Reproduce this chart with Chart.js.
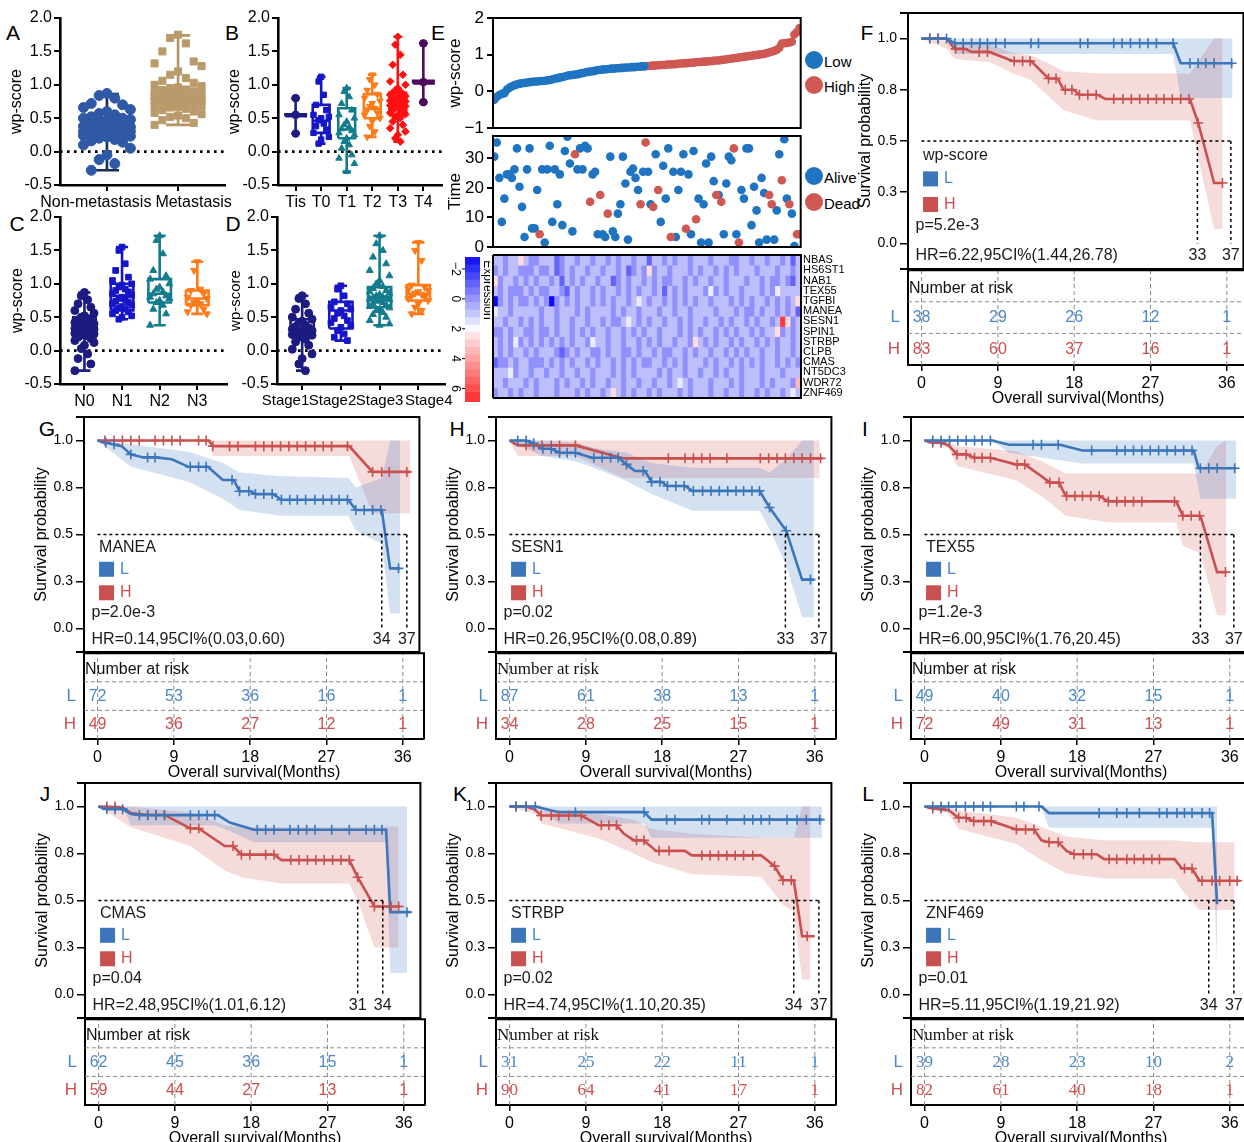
<!DOCTYPE html>
<html>
<head>
<meta charset="utf-8">
<title>wp-score figure</title>
<script src="https://cdn.jsdelivr.net/npm/chart.js@4.4.1/dist/chart.umd.min.js"></script>
<style>
  html, body { margin: 0; padding: 0; background: #fff; }
  body { width: 1244px; height: 1142px; position: relative; overflow: hidden; font-family: "Liberation Sans", Arial, sans-serif; }
  canvas { position: absolute; }
  .tag { position: absolute; font-size: 21px; line-height: 1; transform: translate(-50%, -50%); }
  .leg { position: absolute; font-size: 15px; line-height: 1; transform: translateY(-50%); }
  .dot { position: absolute; width: 18px; height: 18px; border-radius: 50%; transform: translate(-50%, -50%); }
</style>
</head>
<body>
<div class="tag" style="left:13px;top:32px">A</div>
<div class="tag" style="left:232px;top:32px">B</div>
<div class="tag" style="left:17px;top:223px">C</div>
<div class="tag" style="left:233px;top:223px">D</div>
<div class="tag" style="left:438px;top:32px">E</div>
<div class="tag" style="left:867px;top:32px">F</div>
<div class="tag" style="left:47px;top:428px">G</div>
<div class="tag" style="left:457px;top:428px">H</div>
<div class="tag" style="left:865px;top:428px">I</div>
<div class="tag" style="left:45px;top:793px">J</div>
<div class="tag" style="left:460px;top:793px">K</div>
<div class="tag" style="left:868px;top:793px">L</div>

<div class="dot" style="left:814px;top:60px;background:#1f74c1"></div><div class="leg" style="left:824px;top:61px">Low</div>
<div class="dot" style="left:814px;top:85px;background:#cf5853"></div><div class="leg" style="left:824px;top:86px">High</div>
<div class="dot" style="left:814px;top:176px;background:#1f74c1"></div><div class="leg" style="left:824px;top:177px">Alive</div>
<div class="dot" style="left:814px;top:202px;background:#cf5853"></div><div class="leg" style="left:824px;top:203px">Dead</div>

<script>
// ---------- data: A-D (wp-score per clinical group) ----------
const metCats = ['Non-metastasis', 'Metastasis'];
const metNon = [0.87,0.84,0.8,0.72,0.7,0.66,0.63,0.6,0.57,0.55,0.52,0.5,0.5,0.48,0.46,0.45,0.43,0.41,0.4,0.38,0.37,0.35,0.34,0.33,0.32,0.31,0.3,0.3,0.29,0.28,0.27,0.26,0.25,0.24,0.23,0.22,0.2,0.18,0.16,0.14,0.1,0.05,-0.05,-0.12,-0.18,-0.28];
const metYes = [1.75,1.7,1.62,1.5,1.35,1.32,1.28,1.2,1.15,1.1,1.06,1.03,1.0,0.98,0.96,0.95,0.93,0.92,0.9,0.89,0.88,0.87,0.86,0.85,0.84,0.83,0.82,0.81,0.8,0.8,0.79,0.78,0.77,0.76,0.75,0.74,0.73,0.72,0.71,0.7,0.69,0.68,0.67,0.66,0.64,0.62,0.6,0.58,0.56,0.54,0.52,0.5,0.47,0.43,0.4];
const metStats = [[-0.28,0.2,0.3,0.5,0.86],[0.4,0.66,0.78,0.94,1.74]];

const tCats = ['Tis','T0','T1','T2','T3','T4'];
const tTis = [0.8,0.55,0.27];
const tT0 = [1.12,1.05,0.85,0.7,0.62,0.55,0.52,0.5,0.47,0.42,0.38,0.33,0.28,0.22,0.18,0.12];
const tT1 = [0.95,0.9,0.82,0.72,0.62,0.55,0.5,0.45,0.4,0.37,0.34,0.31,0.28,0.25,0.2,0.15,0.1,0.05,-0.05,-0.1,-0.18,-0.3];
const tT2 = [1.15,1.08,1.0,0.92,0.86,0.8,0.76,0.72,0.68,0.65,0.62,0.58,0.55,0.5,0.45,0.38,0.3,0.22];
const tT3 = [1.72,1.6,1.45,1.3,1.15,1.05,1.0,0.95,0.92,0.9,0.88,0.86,0.85,0.83,0.82,0.8,0.79,0.78,0.77,0.76,0.75,0.74,0.73,0.72,0.71,0.7,0.69,0.68,0.66,0.65,0.63,0.62,0.6,0.58,0.56,0.55,0.52,0.5,0.45,0.4,0.35,0.3,0.25,0.2,0.15];
const tT4 = [1.62,1.04,0.74];
const tStats = [[0.27,0.53,0.55,0.56,0.8],[0.12,0.28,0.46,0.7,1.12],[-0.3,0.2,0.33,0.65,0.95],[0.22,0.5,0.64,0.86,1.15],[0.15,0.55,0.73,0.88,1.72],[0.74,1.02,1.04,1.06,1.62]];

const nCats = ['N0','N1','N2','N3'];
const nN0 = [0.87,0.82,0.76,0.7,0.65,0.6,0.56,0.52,0.5,0.48,0.46,0.44,0.42,0.4,0.39,0.38,0.36,0.35,0.34,0.33,0.32,0.31,0.3,0.29,0.28,0.27,0.26,0.25,0.24,0.23,0.22,0.2,0.18,0.15,0.12,0.08,0.03,-0.05,-0.12,-0.2,-0.3];
const nN1 = [1.55,1.5,1.3,1.2,1.1,1.05,1.0,0.98,0.95,0.92,0.9,0.88,0.85,0.83,0.8,0.78,0.76,0.74,0.72,0.7,0.68,0.66,0.64,0.62,0.6,0.58,0.55,0.52,0.5,0.47];
const nN2 = [1.72,1.65,1.45,1.2,1.12,1.07,1.0,0.95,0.92,0.88,0.85,0.82,0.8,0.78,0.75,0.72,0.68,0.62,0.55,0.38];
const nN3 = [1.33,1.2,0.92,0.9,0.85,0.8,0.78,0.75,0.72,0.7,0.68,0.62,0.58,0.55];
const nStats = [[-0.3,0.2,0.38,0.5,0.87],[0.47,0.6,0.82,1.0,1.55],[0.38,0.72,0.85,1.07,1.72],[0.55,0.68,0.78,0.9,1.33]];

const stCats = ['Stage1','Stage2','Stage3','Stage4'];
const st1 = [0.82,0.78,0.7,0.62,0.56,0.5,0.47,0.44,0.41,0.38,0.36,0.34,0.32,0.3,0.29,0.28,0.27,0.26,0.25,0.24,0.23,0.22,0.2,0.17,0.13,0.08,0.02,-0.05,-0.12,-0.2,-0.3];
const st2 = [0.97,0.92,0.82,0.73,0.7,0.65,0.62,0.6,0.56,0.52,0.48,0.45,0.42,0.38,0.35,0.3,0.25,0.2,0.15];
const st3 = [1.72,1.6,1.5,1.4,1.3,1.2,1.12,1.05,1.0,0.96,0.93,0.9,0.88,0.86,0.84,0.82,0.8,0.79,0.78,0.77,0.76,0.75,0.74,0.72,0.7,0.68,0.66,0.64,0.62,0.6,0.57,0.54,0.5,0.45,0.4,0.38];
const st4 = [1.62,1.5,1.35,0.98,0.95,0.92,0.9,0.88,0.86,0.84,0.82,0.8,0.78,0.75,0.7,0.65,0.6,0.55];
const stStats = [[-0.3,0.22,0.3,0.47,0.82],[0.15,0.33,0.6,0.73,0.97],[0.38,0.65,0.8,0.95,1.72],[0.55,0.75,0.85,0.98,1.62]];

// ---------- data: E (risk score, survival status, heatmap) ----------
const scoreLow = [-0.23,-0.15,-0.1,-0.07,-0.05,0.05,0.1,0.14,0.17,0.19,0.21,0.22,0.23,0.24,0.25,0.26,0.27,0.27,0.28,0.28,0.29,0.3,0.31,0.33,0.35,0.36,0.38,0.39,0.41,0.43,0.44,0.45,0.46,0.47,0.49,0.5,0.52,0.53,0.54,0.55,0.57,0.58,0.59,0.6,0.6,0.61,0.62,0.62,0.63,0.63,0.64,0.64,0.65,0.65,0.66,0.66,0.67,0.67,0.68,0.68];
const scoreHigh = [0.69,0.69,0.7,0.7,0.71,0.71,0.72,0.72,0.73,0.73,0.74,0.74,0.75,0.76,0.76,0.77,0.77,0.78,0.78,0.79,0.8,0.8,0.81,0.81,0.82,0.82,0.83,0.84,0.84,0.85,0.86,0.87,0.88,0.89,0.9,0.91,0.92,0.93,0.94,0.95,0.96,0.97,0.98,0.99,1.0,1.01,1.02,1.04,1.06,1.08,1.1,1.13,1.18,1.3,1.31,1.32,1.33,1.35,1.55,1.62,1.72];
const survTime = [30.6,35.4,23.4,8.5,16.4,24.6,24.6,23.4,26.3,33.4,20.4,13.6,3.4,26.3,33.4,6.3,6.3,19.3,4.3,26.3,1.5,26.3,34.3,8.5,26.3,14.5,24.6,7.4,32.5,37.4,28.3,5.3,31.4,26.3,33.4,26.3,34.3,33.4,15.3,24.6,25.5,4.3,17.6,4.3,3.4,11.3,30.6,5.3,3.4,11.3,14.5,30.6,21.5,2.5,25.5,26.6,23.4,19.3,14.5,25.5,35.4,25.5,14.5,13.6,31.4,19.3,8.5,27.5,16.4,33.4,3.4,25.5,3.4,19.3,25.5,31.4,6.2,24.6,4.3,32.5,9.4,16.4,1.5,14.5,28.3,1.5,30.6,22.3,17.6,17.6,15.3,4.3,21.5,30.6,29.4,33.4,4.3,1.5,19.3,16.4,33.4,33.4,7.4,20.4,12.4,1.5,23.4,18.3,2.5,17.6,14.5,2.5,12.4,31.4,22.6,36.5,16.4,14.5,11.3,0.3,4.3,4.3];
const survDead = [0,0,0,0,0,0,0,0,0,0,0,0,0,0,0,0,0,0,1,0,0,0,0,0,0,0,0,0,0,0,0,0,1,0,0,0,0,0,1,0,0,0,1,0,0,1,0,0,0,0,0,0,0,0,0,0,0,0,1,0,1,0,0,1,0,1,0,0,0,0,1,0,0,0,0,0,1,0,0,0,1,0,0,0,0,0,0,0,1,0,1,0,0,0,0,1,0,1,0,0,0,0,0,0,0,0,0,0,0,1,1,0,0,0,1,0,0,1,0,0,1,1];

const heatGenes = ['NBAS','HS6ST1','NAB1','TEX55','TGFBI','MANEA','SESN1','SPIN1','STRBP','CLPB','CMAS','NT5DC3','WDR72','ZNF469'];
// one digit per sample block; digit = index into heatLevels (expression value)
const heatLevels = [-2.8,-1.9,-1.0,-0.1,0.8,1.7,2.6,3.5,4.4,6.5];
const heatRows = [
  '4434464334 4423443443 4434344344 2443434434 4434443344 3443443424',
  '3434433343 3423434434 4344342343 6344344434 3443434344 4344434434',
  '6344343434 4342434344 3442343443 4343344343 4434434443 4434334324',
  '4343334343 3443243443 4344343434 4342434344 4353434434 4434354444',
  '0343433434 3034343443 4343443454 3443434343 4434443434 3443434346',
  '5443444443 4434443434 4443434434 4434434434 4443444343 3434434342',
  '4434434343 4434434434 4343345434 3443443434 4344343443 4344349634',
  '3343443343 3434434343 4434434343 4434443434 3443434344 3434463434',
  '4343534343 4343434435 4434434434 3434434436 4343443434 4343434434',
  '4343443434 4432343443 3434433434 4343344343 4434434343 4434434434',
  '2334344333 4343434434 3443434343 3443434344 4343443434 3434434343',
  '4445344344 3443443443 4443434344 4434344344 3443434434 4434443444',
  '4434443434 4434344343 4434434434 4344345434 4434443434 4434344437',
  '3443434434 4434443434 4346434344 3434443434 4434434434 4343443454'
];
const cbarEdges = [-2.8,-2.3,-1.8,-1.3,-0.8,-0.3,0.2,0.7,1.2,1.7,2.2,2.7,3.2,3.7,4.2,4.7,5.2,5.7,6.2,6.9];
const cbarTicks = [-2,0,2,4,6];

// ---------- data: F-L (Kaplan-Meier) ----------
const RISK_T = [0,9,18,27,36];

const F_L = [[0,1],[3,1],[4,0.977],[30.1,0.977],[31,0.88],[37.2,0.88]];
const F_Lc = [[1,1],[2,1],[3,1],[4,0.977],[5,0.977],[6,0.977],[7,0.977],[7.9,0.977],[8.9,0.977],[10,0.977],[13.1,0.977],[14,0.977],[19,0.977],[19.9,0.977],[23,0.977],[24,0.977],[25,0.977],[26.1,0.977],[27.1,0.977],[28.1,0.977],[30.1,0.977],[32.1,0.88],[33.1,0.88],[34,0.88],[35,0.88],[37.1,0.88]];
const F_Lb = [[0,1,1],[3,1,1],[4,0.925,1],[30.1,0.925,1],[31,0.71,1],[37.2,0.71,1]];
const F_H = [[0,1],[3,1],[4,0.95],[5.2,0.95],[6,0.935],[8.1,0.935],[11,0.89],[13.1,0.89],[15.2,0.805],[16.3,0.805],[17,0.75],[18.2,0.75],[18.9,0.726],[21,0.726],[22,0.705],[32.1,0.705],[33.1,0.588],[35,0.295],[36,0.295]];
const F_Hc = [[1,1],[2,1],[4.1,0.95],[5,0.95],[6.9,0.935],[7.9,0.935],[11.1,0.89],[12.1,0.89],[13,0.89],[15.2,0.805],[16.1,0.805],[17.2,0.75],[18,0.75],[18.9,0.726],[19.9,0.726],[20.9,0.726],[23,0.705],[24.1,0.705],[25.1,0.705],[26.1,0.705],[27.1,0.705],[28.1,0.705],[29,0.705],[30,0.705],[31,0.705],[32,0.705],[33.1,0.588],[36,0.295]];
const F_Hb = [[0,1,1],[3,0.95,0.99],[4,0.9,0.975],[8.2,0.885,0.97],[11,0.83,0.93],[13,0.8,0.92],[15.2,0.72,0.88],[17,0.65,0.84],[21,0.6,0.83],[32.1,0.6,0.83],[35,0.07,1],[36,0.07,1]];
const F_riskL = [38,29,26,12,1];
const F_riskH = [83,60,37,16,1];

const G_L = [[0,1],[1,0.988],[2.9,0.97],[4,0.926],[5.5,0.91],[7,0.91],[8.9,0.9],[10.9,0.86],[13.2,0.86],[15,0.79],[16.3,0.79],[17,0.73],[18.3,0.73],[18.9,0.715],[21,0.715],[22,0.685],[30,0.685],[30.9,0.63],[34,0.63],[35,0.32],[36.2,0.32]];
const G_Lc = [[1,0.988],[2,0.98],[4,0.926],[6,0.91],[6.9,0.91],[11.1,0.86],[12.1,0.86],[13,0.86],[16.1,0.79],[17,0.73],[18.1,0.73],[18.9,0.715],[19.9,0.715],[20.9,0.715],[22,0.685],[23,0.685],[23.9,0.685],[24.9,0.685],[26,0.685],[27,0.685],[28,0.685],[28.9,0.685],[29.9,0.685],[30.9,0.63],[31.9,0.63],[32.9,0.63],[33.9,0.63],[36,0.32]];
const G_Lb = [[0,1,1],[4,0.86,0.98],[10.9,0.78,0.94],[15,0.69,0.88],[17,0.63,0.83],[22,0.6,0.81],[30,0.6,0.8],[30.9,0.52,0.75],[34,0.45,0.8],[35,0.08,1],[36.2,0.08,1]];
const G_H = [[0,1],[13.3,1],[13.8,0.97],[30.1,0.97],[32.9,0.833],[37.4,0.833]];
const G_Hc = [[0.9,1],[2,1],[3,1],[4,1],[5,1],[6.9,1],[7.9,1],[8.9,1],[9.9,1],[12.1,1],[13,1],[13.8,0.97],[15.8,0.97],[16.8,0.97],[18.9,0.97],[19.9,0.97],[20.9,0.97],[21.9,0.97],[22.9,0.97],[23.9,0.97],[24.9,0.97],[26,0.97],[27,0.97],[28,0.97],[29.9,0.97],[32.9,0.833],[34,0.833],[34.9,0.833],[37,0.833]];
const G_Hb = [[0,1,1],[13.3,1,1],[13.8,0.917,1],[30.1,0.917,1],[32.9,0.613,1],[37.4,0.613,1]];
const G_riskL = [72,53,36,16,1];
const G_riskH = [49,36,27,12,1];

const H_L = [[0,1],[2,1],[2.9,0.985],[3.9,0.956],[5,0.956],[6,0.935],[7.9,0.935],[9.9,0.908],[13,0.908],[14,0.873],[15,0.838],[16.2,0.838],[17,0.78],[18.2,0.78],[18.9,0.758],[21,0.758],[21.9,0.732],[29.9,0.732],[31.1,0.644],[33.1,0.52],[35,0.26],[36.4,0.26]];
const H_Lc = [[1,1],[2,1],[2.9,0.985],[4,0.956],[5,0.956],[6,0.935],[6.9,0.935],[7.9,0.935],[10.1,0.908],[11.1,0.908],[12.1,0.908],[13,0.908],[14,0.873],[16,0.838],[17,0.78],[18,0.78],[18.9,0.758],[19.9,0.758],[20.9,0.758],[22,0.732],[23.1,0.732],[24.1,0.732],[25.1,0.732],[26.1,0.732],[27.1,0.732],[28,0.732],[29,0.732],[29.9,0.732],[31.1,0.644],[33.1,0.52],[36,0.26]];
const H_Lb = [[0,1,1],[3.9,0.917,1],[7.9,0.89,0.99],[10.1,0.855,0.96],[14,0.785,0.935],[17,0.715,0.88],[21.9,0.626,0.855],[29.9,0.626,0.855],[31.1,0.53,0.83],[33.1,0.335,0.9],[35,0.06,1],[36.4,0.06,1]];
const H_H = [[0,1],[1,0.974],[7.9,0.974],[13.6,0.905],[37.4,0.905]];
const H_Hc = [[2,0.974],[2.9,0.974],[3.9,0.974],[5,0.974],[6,0.974],[7.9,0.974],[19,0.905],[21,0.905],[22,0.905],[23,0.905],[24,0.905],[26,0.905],[30,0.905],[31,0.905],[32,0.905],[33,0.905],[34,0.905],[35,0.905],[36,0.905],[37.2,0.905]];
const H_Hb = [[0,1,1],[1,0.917,1],[7.9,0.917,1],[13.6,0.8,1],[37.1,0.8,1]];
const H_riskL = [87,61,38,13,1];
const H_riskH = [34,28,25,15,1];

const I_L = [[0,1],[8.1,1],[10.1,0.977],[16.2,0.977],[18.9,0.947],[32.2,0.947],[32.8,0.852],[37.3,0.852]];
const I_Lc = [[1,1],[2,1],[3,1],[4,1],[5,1],[6,1],[6.9,1],[7.9,1],[13,0.977],[14,0.977],[16,0.977],[20,0.947],[23,0.947],[24,0.947],[25,0.947],[26,0.947],[27,0.947],[28,0.947],[29,0.947],[30,0.947],[31,0.947],[32,0.947],[33,0.852],[34,0.852],[35,0.852],[37.1,0.852]];
const I_Lb = [[0,1,1],[8.1,1,1],[10.1,0.935,1],[18.9,0.877,1],[32.2,0.877,1],[33,0.69,1],[37.3,0.69,1]];
const I_H = [[0,1],[1,0.988],[2,0.988],[2.9,0.974],[3.9,0.926],[5,0.926],[6,0.908],[7.9,0.908],[10.9,0.873],[12,0.873],[14,0.81],[15,0.776],[16.1,0.776],[16.9,0.705],[20.9,0.705],[22,0.676],[30.1,0.676],[30.9,0.6],[33,0.6],[35,0.3],[36.1,0.3]];
const I_Hc = [[1,0.988],[2,0.988],[3.9,0.926],[5,0.926],[6,0.908],[6.9,0.908],[7.9,0.908],[11.1,0.873],[12,0.873],[15,0.776],[16.1,0.776],[17,0.705],[18,0.705],[18.9,0.705],[19.9,0.705],[20.9,0.705],[22,0.676],[23,0.676],[24,0.676],[25,0.676],[26,0.676],[29.9,0.676],[30.9,0.6],[31.9,0.6],[32.9,0.6],[36,0.3]];
const I_Hb = [[0,1,1],[2.9,0.96,1],[3.9,0.864,0.97],[10.9,0.79,0.944],[14,0.705,0.89],[16.9,0.6,0.825],[22,0.564,0.825],[30.1,0.564,0.825],[30.9,0.44,0.825],[33,0.4,0.825],[35,0.07,0.97],[36.1,0.07,1]];
const I_riskL = [49,40,32,15,1];
const I_riskH = [72,49,31,13,1];

const J_L = [[0,1],[1,0.986],[2.9,0.986],[3.9,0.96],[5,0.954],[14.3,0.954],[15.7,0.915],[18.6,0.876],[34.4,0.876],[34.9,0.438],[37.3,0.438]];
const J_Lc = [[1,0.986],[2,0.986],[2.9,0.986],[4.9,0.954],[5.9,0.954],[6.9,0.954],[7.9,0.954],[11,0.954],[12,0.954],[13,0.954],[13.9,0.954],[19,0.876],[20,0.876],[21,0.876],[22.9,0.876],[23.9,0.876],[24.9,0.876],[25.9,0.876],[27.9,0.876],[30,0.876],[32,0.876],[33,0.876],[33.9,0.876],[36.9,0.438]];
const J_Lb = [[0,1,1],[2.9,1,1],[3.9,0.9,1],[13.9,0.9,1],[15.7,0.87,1],[18.6,0.81,1],[34.4,0.81,1],[34.9,0.115,1],[36.9,0.115,1]];
const J_H = [[0,1],[2.9,0.995],[3.9,0.965],[5.9,0.955],[7.9,0.955],[11,0.883],[12,0.883],[15.1,0.79],[16.1,0.79],[17.1,0.744],[21,0.744],[21.9,0.715],[30,0.715],[31,0.624],[33,0.468],[36.1,0.468]];
const J_Hc = [[1,1],[2,1],[5.9,0.955],[6.9,0.955],[7.9,0.955],[11,0.883],[12,0.883],[16.1,0.79],[17.1,0.744],[18.1,0.744],[20,0.744],[21,0.744],[23,0.715],[24,0.715],[25,0.715],[26,0.715],[27,0.715],[28,0.715],[29,0.715],[30,0.715],[31,0.624],[33,0.468],[34,0.468],[35,0.468],[35.9,0.468]];
const J_Hb = [[0,1,1],[3.9,0.89,1],[11,0.79,0.968],[15.1,0.66,0.9],[17.1,0.624,0.89],[21.9,0.59,0.89],[30,0.59,0.89],[31,0.5,0.89],[33,0.25,0.894],[35.9,0.25,0.894]];
const J_riskL = [62,45,36,15,1];
const J_riskH = [59,44,27,13,1];

const K_L = [[0,1],[3.1,1],[5.9,0.97],[16.1,0.97],[17,0.93],[37.4,0.93]];
const K_Lc = [[0.8,1],[2,1],[3.1,1],[7.9,0.97],[16.1,0.97],[18.8,0.93],[19.8,0.93],[23,0.93],[23.9,0.93],[26,0.93],[28.1,0.93],[29.1,0.93],[30.1,0.93],[31.1,0.93],[33.2,0.93],[34.4,0.93],[35.5,0.93],[37.1,0.93]];
const K_Lb = [[0,1,1],[3.1,1,1],[5.9,0.91,1],[16.1,0.91,1],[17,0.834,1],[37.4,0.834,1]];
const K_H = [[0,1],[2,1],[3.1,0.982],[3.8,0.952],[8.6,0.952],[10.7,0.9],[12.8,0.9],[13.7,0.855],[14.9,0.82],[16,0.82],[17,0.785],[17.5,0.764],[21,0.764],[21.8,0.74],[30.1,0.74],[31.7,0.683],[32.7,0.608],[34,0.608],[35,0.31],[36.5,0.31]];
const K_Hc = [[0.8,1],[2,1],[3.8,0.952],[5,0.952],[5.9,0.952],[7.1,0.952],[8.6,0.952],[11,0.9],[11.9,0.9],[12.8,0.9],[15.2,0.82],[16.1,0.82],[17.9,0.764],[19.1,0.764],[23,0.74],[24,0.74],[25,0.74],[26,0.74],[27,0.74],[28,0.74],[29.1,0.74],[31.7,0.683],[32.7,0.608],[33.7,0.608],[35.6,0.31]];
const K_Hb = [[0,1,1],[3.1,0.96,1],[3.8,0.91,0.98],[10.7,0.83,0.96],[14.9,0.75,0.93],[17,0.705,0.88],[21.8,0.64,0.855],[30.1,0.626,0.834],[32.7,0.476,0.834],[34,0.44,0.834],[35,0.08,1],[36,0.08,1]];
const K_riskL = [31,25,22,11,1];
const K_riskH = [90,64,41,17,1];

const L_L = [[0,1],[14,1],[14.9,0.965],[34.4,0.965],[35,0.48]];
const L_Lc = [[1,1],[2,1],[2.9,1],[3.8,1],[4.9,1],[5.9,1],[7,1],[7.9,1],[11,1],[11.9,1],[13.7,1],[20.9,0.965],[23,0.965],[24.2,0.965],[25.7,0.965],[28.1,0.965],[29,0.965],[30.2,0.965],[31.1,0.965],[32,0.965],[33.2,0.965],[34.1,0.965]];
const L_Lb = [[0,1,1],[14,1,1],[14.9,0.887,1],[34.4,0.887,1],[35,0.15,1]];
const L_H = [[0,1],[1,0.99],[2.9,0.98],[4.1,0.94],[5,0.94],[5.9,0.922],[8,0.922],[11,0.878],[13.1,0.878],[14,0.82],[14.9,0.81],[16,0.81],[17,0.764],[17.9,0.746],[20.6,0.746],[21.5,0.72],[29.9,0.72],[30.8,0.67],[32,0.67],[32.9,0.605],[37.7,0.605]];
const L_Hc = [[1,0.99],[2,0.99],[4.1,0.94],[5,0.94],[5.9,0.922],[7.1,0.922],[8,0.922],[11,0.878],[12.1,0.878],[13.1,0.878],[14.9,0.81],[16,0.81],[17.9,0.746],[19,0.746],[20,0.746],[22.1,0.72],[23,0.72],[24.2,0.72],[25.1,0.72],[26.2,0.72],[27.2,0.72],[28.1,0.72],[31.1,0.67],[32,0.67],[33.2,0.605],[34.4,0.605],[35.3,0.605],[36.5,0.605],[37.4,0.605]];
const L_Hb = [[0,1,1],[2.9,0.96,1],[4.1,0.88,0.98],[11,0.8,0.94],[14,0.714,0.89],[17,0.644,0.84],[21.5,0.617,0.82],[29.9,0.617,0.82],[30.8,0.555,0.815],[32.9,0.45,0.81],[37.1,0.45,0.81]];
const L_riskL = [39,28,23,10,2];
const L_riskH = [82,61,40,18,1];

// ---------- styles ----------
const SANS = '"Liberation Sans", Arial, sans-serif';
const SERIF = '"Liberation Serif", "Times New Roman", serif';
const KM_BLUE = '#3a76b9', KM_RED = '#c8514f';
const NUM_BLUE = '#4a88c9', NUM_RED = '#cf4e4e';
const BAND_BLUE = 'rgba(60,120,190,0.22)', BAND_RED = 'rgba(215,90,90,0.22)';
const E_BLUE = '#1f74c1', E_RED = '#cf5853';
const NAVY = '#1c1c80', ROYAL = '#1616c8', TEAL = '#137c8c', ORANGE = '#ff7a18', BRED = '#ff1010', PURPLE = '#4c0b5c';

Chart.defaults.font.family = SANS;
Chart.defaults.color = '#000';
Chart.defaults.animation = false;
Chart.defaults.plugins.legend.display = false;
Chart.defaults.plugins.tooltip.enabled = false;

function addCanvas(x, y, w, h) {
  const c = document.createElement('canvas');
  c.width = w; c.height = h;
  c.style.left = x + 'px'; c.style.top = y + 'px';
  c.style.width = w + 'px'; c.style.height = h + 'px';
  document.body.appendChild(c);
  return c;
}

// black rectangle round the plot area (only the sides asked for)
function framePlugin(sides, over) {
  return {
    id: 'frame',
    afterDraw(chart) {
      const { ctx, chartArea: a } = chart;
      const e = over || 0;
      ctx.save();
      ctx.strokeStyle = '#000';
      ctx.lineWidth = 2;
      ctx.beginPath();
      if (sides.includes('t')) { ctx.moveTo(a.left - e, a.top); ctx.lineTo(a.right + 1, a.top); }
      if (sides.includes('b')) { ctx.moveTo(a.left - e, a.bottom); ctx.lineTo(a.right + 1, a.bottom); }
      if (sides.includes('r')) { ctx.moveTo(a.right, a.top); ctx.lineTo(a.right, a.bottom); }
      if (sides.includes('l')) { ctx.moveTo(a.left, a.top); ctx.lineTo(a.left, a.bottom); }
      ctx.stroke();
      ctx.restore();
    }
  };
}

const tickOnly = (w, len) => ({ display: true, drawOnChartArea: false, drawTicks: true, tickLength: len || 6, color: '#000', lineWidth: w || 2 });

// ---------- box plots ----------
function boxChart(o) {
  const cv = addCanvas(o.x, o.y, o.w, o.h);
  const sets = [];
  const pattern = [0, -1, 1, -2, 2, -3, 3];
  o.groups.forEach((vals, i) => {
    const [mn, q1, md, q3, mx] = o.stats[i];
    const bw = o.boxW[i], cw = o.capW;
    const gap = { x: i, y: null };
    const spread = vals.length > 3 ? o.spread : 0;
    const col = o.colors[i];
    sets.push({
      type: 'scatter',
      data: vals.map((v, k) => ({ x: i + pattern[k % 7] * spread, y: v })),
      pointStyle: o.shapes[i],
      pointRotation: (o.rot || [])[i] || 0,
      pointRadius: o.r,
      pointBackgroundColor: col,
      pointBorderColor: col,
      pointBorderWidth: 1,
      order: 1
    });
    sets.push({
      type: 'line',
      data: [
        { x: i - bw, y: q1 }, { x: i + bw, y: q1 }, { x: i + bw, y: q3 }, { x: i - bw, y: q3 }, { x: i - bw, y: q1 }, gap,
        { x: i - bw, y: md }, { x: i + bw, y: md }, gap,
        { x: i, y: q3 }, { x: i, y: mx }, gap, { x: i - cw, y: mx }, { x: i + cw, y: mx }, gap,
        { x: i, y: q1 }, { x: i, y: mn }, gap, { x: i - cw, y: mn }, { x: i + cw, y: mn }
      ],
      borderColor: (o.lineColors || o.colors)[i],
      borderWidth: 2.6,
      pointRadius: 0,
      fill: false,
      order: 2
    });
  });
  sets.push({
    type: 'line',
    data: [{ x: o.xMin, y: 0 }, { x: o.xMax, y: 0 }],
    borderColor: '#000', borderWidth: 2.6, borderDash: [2.6, 4.4], pointRadius: 0, fill: false, order: 3
  });

  // spaces before/after a label nudge it sideways like in the original figure
  const pad = o.labelPad || o.cats.map(() => [0, 0]);
  const label = i => ' '.repeat(pad[i][0]) + o.cats[i] + ' '.repeat(pad[i][1]);

  new Chart(cv, {
    type: 'scatter',
    data: { datasets: sets },
    options: {
      responsive: false,
      devicePixelRatio: 1,
      layout: { padding: { left: 0, top: o.padT, right: o.padR, bottom: 0 } },
      scales: {
        x: {
          type: 'linear', min: o.xMin, max: o.xMax,
          afterBuildTicks: s => { s.ticks = o.cats.map((c, i) => ({ value: i })); },
          afterFit: s => { s.height = o.xH; },
          ticks: { callback: (v, i) => label(i), font: { size: o.xSize || 16 }, padding: 2, minRotation: 0, maxRotation: 0, autoSkip: false },
          grid: tickOnly(2),
          border: { color: '#000', width: 2.6 }
        },
        y: {
          min: -0.5, max: 2,
          afterBuildTicks: s => { s.ticks = [-0.5, 0, 0.5, 1, 1.5, 2].map(v => ({ value: v })); },
          afterFit: s => { s.width = o.yW; },
          ticks: { callback: v => v.toFixed(1), font: { size: 16 }, padding: 2 },
          grid: tickOnly(2),
          border: { color: '#000', width: 2.6 },
          title: { display: true, text: 'wp-score', font: { size: o.tSize || 16 }, padding: { top: o.titlePad, bottom: 0 } }
        }
      }
    }
  });
}

boxChart({ x: 0, y: 0, w: 240, h: 215, yW: 60, padT: 18, padR: 15, xH: 30, xMin: -0.66, xMax: 1.66, titlePad: 7,
  cats: metCats, groups: [metNon, metYes], stats: metStats, labelPad: [[0, 5], [7, 0]],
  colors: ['#2f58a6', '#b99b6b'], lineColors: ['#1b2c58', '#b39565'],
  shapes: ['circle', 'rect'], boxW: [0.27, 0.34], capW: 0.17, r: 5, spread: 0.11 });

boxChart({ x: 225, y: 0, w: 222, h: 215, yW: 53, padT: 18, padR: 2, xH: 30, xMin: -0.69, xMax: 5.73, titlePad: 0,
  cats: tCats, groups: [tTis, tT0, tT1, tT2, tT3, tT4], stats: tStats,
  colors: [NAVY, ROYAL, TEAL, ORANGE, BRED, PURPLE],
  shapes: ['circle', 'rect', 'triangle', 'triangle', 'rectRot', 'circle'], rot: [0, 0, 0, 180, 0, 0],
  boxW: [0.4, 0.33, 0.33, 0.33, 0.33, 0.4], capW: 0.17, r: 3.8, spread: 0.1 });

boxChart({ x: 0, y: 200, w: 232, h: 214, yW: 60, padT: 17, padR: 2, xH: 30, xMin: -0.65, xMax: 3.79, titlePad: 8,
  cats: nCats, groups: [nN0, nN1, nN2, nN3], stats: nStats,
  colors: [NAVY, ROYAL, TEAL, ORANGE],
  shapes: ['circle', 'rect', 'triangle', 'triangle'], rot: [0, 0, 0, 180],
  boxW: [0.3, 0.3, 0.3, 0.3], capW: 0.16, r: 4, spread: 0.085 });

boxChart({ x: 225, y: 200, w: 232, h: 214, yW: 52, padT: 17, padR: 12, xH: 30, xMin: -0.65, xMax: 3.69, titlePad: 2, tSize: 15,
  cats: stCats, groups: [st1, st2, st3, st4], stats: stStats, xSize: 15, labelPad: [[0, 8], [0, 4], [0, 0], [5, 0]],
  colors: [NAVY, ROYAL, TEAL, ORANGE],
  shapes: ['circle', 'rect', 'triangle', 'triangle'], rot: [0, 0, 0, 180],
  boxW: [0.3, 0.3, 0.3, 0.3], capW: 0.16, r: 4, spread: 0.085 });

// ---------- E: score curve ----------
(function () {
  const cv = addCanvas(445, 4, 360, 138);
  const n = scoreLow.length + scoreHigh.length;
  new Chart(cv, {
    type: 'scatter',
    data: { datasets: [
      { data: scoreLow.map((v, i) => ({ x: i, y: v })), pointRadius: 4.3, pointBackgroundColor: E_BLUE, pointBorderWidth: 0 },
      { data: scoreHigh.map((v, j) => ({ x: scoreLow.length + j, y: v })), pointRadius: 4.3, pointBackgroundColor: E_RED, pointBorderWidth: 0 }
    ] },
    options: {
      responsive: false, devicePixelRatio: 1,
      layout: { padding: { left: 0, top: 14, right: 4, bottom: 14 } },
      scales: {
        x: { type: 'linear', min: -0.5, max: n - 0.5, display: false },
        y: {
          min: -1, max: 2,
          afterBuildTicks: s => { s.ticks = [-1, 0, 1, 2].map(v => ({ value: v })); },
          afterFit: s => { s.width = 48; },
          ticks: { callback: v => v < 0 ? '\u2212' + (-v) : String(v), font: { size: 17 }, padding: 3 },
          grid: tickOnly(2),
          border: { color: '#000', width: 2 },
          title: { display: true, text: 'wp-score', font: { size: 17 }, padding: { top: 0, bottom: 0 } }
        }
      }
    },
    plugins: [framePlugin('tlrb')]
  });
})();

// ---------- E: survival time / status ----------
(function () {
  const cv = addCanvas(445, 122, 360, 139);
  const alive = [], dead = [];
  survTime.forEach((t, i) => (survDead[i] ? dead : alive).push({ x: i, y: t }));
  new Chart(cv, {
    type: 'scatter',
    data: { datasets: [
      { data: dead, pointRadius: 4.3, pointBackgroundColor: E_RED, pointBorderWidth: 0 },
      { data: alive, pointRadius: 4.3, pointBackgroundColor: E_BLUE, pointBorderWidth: 0 }
    ] },
    options: {
      responsive: false, devicePixelRatio: 1,
      layout: { padding: { left: 0, top: 14, right: 4, bottom: 14 } },
      scales: {
        x: { type: 'linear', min: -0.5, max: survTime.length - 0.5, display: false },
        y: {
          min: 0, max: 37.6,
          afterBuildTicks: s => { s.ticks = [0, 10, 20, 30].map(v => ({ value: v })); },
          afterFit: s => { s.width = 48; },
          ticks: { font: { size: 17 }, padding: 3 },
          grid: tickOnly(2),
          border: { color: '#000', width: 2 },
          title: { display: true, text: 'Time', font: { size: 17 }, padding: { top: 0, bottom: 0 } }
        }
      }
    },
    plugins: [framePlugin('tlrb')]
  });
})();

// ---------- E: heatmap ----------
function heatColor(v) {
  let c;
  if (v <= 2) {
    const t = Math.min((2 - v) / 4.8, 1);
    c = [250 - 240 * t, 250 - 240 * t, 255 - 5 * t];
  } else {
    const t = Math.min((v - 2) / 4.9, 1);
    c = [255, 245 - 205 * t, 245 - 205 * t];
  }
  return 'rgb(' + c.map(Math.round).join(',') + ')';
}

(function () {
  const rows = heatRows.map(r => r.replace(/ /g, '').split('').map(Number));
  const cv = addCanvas(490, 246, 360, 161);
  new Chart(cv, {
    type: 'bar',
    data: {
      labels: rows[0].map((d, i) => i),
      datasets: rows.map((row, r) => ({
        data: row.map(() => [r, r + 1]),
        backgroundColor: row.map(d => heatColor(heatLevels[d])),
        borderWidth: 0, grouped: false, barPercentage: 1, categoryPercentage: 1
      }))
    },
    options: {
      responsive: false, devicePixelRatio: 1,
      layout: { padding: { left: 3, top: 9, right: 0, bottom: 9 } },
      scales: {
        x: { display: false },
        y: {
          position: 'right', min: 0, max: heatGenes.length, reverse: true,
          afterBuildTicks: s => { s.ticks = heatGenes.map((g, i) => ({ value: i + 0.5 })); },
          afterFit: s => { s.width = 49; },
          ticks: { callback: (v, i) => heatGenes[i], font: { size: 11 }, padding: 2, autoSkip: false },
          grid: { display: false, drawTicks: false },
          border: { display: false }
        }
      }
    },
    plugins: [framePlugin('tlrb')]
  });
})();

// ---------- E: colour bar ----------
(function () {
  const cv = addCanvas(440, 250, 50, 160);
  const cbarText = {
    id: 'cbarText',
    afterDraw(chart) {
      const { ctx, chartArea: a } = chart;
      const Y = v => chart.scales.y.getPixelForValue(v);
      ctx.save();
      ctx.fillStyle = '#000';
      ctx.strokeStyle = '#000';
      ctx.lineWidth = 1;
      ctx.font = '12px ' + SANS;
      ctx.textAlign = 'center';
      ctx.textBaseline = 'middle';
      cbarTicks.forEach(v => {
        ctx.beginPath(); ctx.moveTo(a.left - 3, Y(v)); ctx.lineTo(a.left, Y(v)); ctx.stroke();
        ctx.save(); ctx.translate(a.left - 10, Y(v)); ctx.rotate(Math.PI / 2);
        ctx.fillText(v < 0 ? '\u2212' + (-v) : String(v), 0, 0); ctx.restore();
      });
      ctx.save(); ctx.translate(a.right + 7, a.top + 33); ctx.rotate(Math.PI / 2);
      ctx.fillText('Expression', 0, 0); ctx.restore();
      ctx.restore();
    }
  };
  new Chart(cv, {
    type: 'bar',
    data: {
      labels: [''],
      datasets: cbarEdges.slice(0, -1).map((e, i) => ({
        data: [[e, cbarEdges[i + 1]]],
        backgroundColor: heatColor((e + cbarEdges[i + 1]) / 2),
        borderWidth: 0, grouped: false, barPercentage: 1, categoryPercentage: 1
      }))
    },
    options: {
      responsive: false, devicePixelRatio: 1,
      layout: { padding: { left: 25, top: 7, right: 10, bottom: 8 } },
      scales: {
        x: { display: false },
        y: { display: false, min: cbarEdges[0], max: cbarEdges[cbarEdges.length - 1], reverse: true }
      }
    },
    plugins: [cbarText]
  });
})();

// ---------- Kaplan-Meier panels ----------
function kmPanel(p) {
  const W = 52 + 340 + 2;
  const x0 = p.ax - 52;
  const xy = a => a.map(r => ({ x: r[0], y: r[1] }));
  const band = (b, col) => [
    { type: 'line', data: b.map(r => ({ x: r[0], y: r[2] })), fill: '+1', backgroundColor: col, borderColor: 'rgba(0,0,0,0)', borderWidth: 0, pointRadius: 0, order: 9 },
    { type: 'line', data: b.map(r => ({ x: r[0], y: r[1] })), fill: false, borderColor: 'rgba(0,0,0,0)', borderWidth: 0, pointRadius: 0, order: 9 }
  ];
  const curve = (d, col) => ({ type: 'line', data: xy(d), borderColor: col, borderWidth: 2.6, pointRadius: 0, fill: false, order: 4 });
  const marks = (d, col) => ({ type: 'scatter', data: xy(d), pointStyle: 'cross', pointRadius: 5, pointBorderColor: col, pointBorderWidth: 1.6, order: 3 });
  const dash = d => ({ type: 'line', data: d, borderColor: '#000', borderWidth: 1.5, borderDash: [3, 3], pointRadius: 0, fill: false, order: 2 });
  const medMax = Math.max(...p.med);

  const sets = [
    ...band(p.Lb, BAND_BLUE), ...band(p.Hb, BAND_RED),
    curve(p.L, KM_BLUE), curve(p.H, KM_RED),
    marks(p.Lc, KM_BLUE), marks(p.Hc, KM_RED),
    dash([{ x: 0, y: 0.5 }, { x: medMax, y: 0.5 }]),
    ...p.med.map(m => dash([{ x: m, y: 0.5 }, { x: m, y: 0 }]))
  ];

  const kmText = {
    id: 'kmText',
    afterDraw(chart) {
      const { ctx } = chart;
      const X = v => chart.scales.x.getPixelForValue(v);
      const Y = v => chart.scales.y.getPixelForValue(v);
      ctx.save();
      ctx.textBaseline = 'middle';
      ctx.textAlign = 'left';
      ctx.font = '16px ' + SANS;
      ctx.fillStyle = '#1a1a1a';
      ctx.fillText(p.title, X(0.2), Y(0.43));
      ctx.fillStyle = KM_BLUE; ctx.fillRect(X(0.2), Y(0.315) - 7.5, 15, 15);
      ctx.fillStyle = KM_RED; ctx.fillRect(X(0.2), Y(0.19) - 7.5, 15, 15);
      ctx.fillStyle = NUM_BLUE; ctx.fillText('L', X(2.7), Y(0.315));
      ctx.fillStyle = NUM_RED; ctx.fillText('H', X(2.7), Y(0.19));
      ctx.fillStyle = '#1a1a1a';
      ctx.fillText(p.pv, X(-0.7), Y(0.086));
      ctx.fillText(p.hr, X(-0.7), Y(-0.06));
      ctx.textAlign = 'center';
      p.med.forEach(m => ctx.fillText(String(m), X(m), Y(-0.06)));
      ctx.restore();
    }
  };

  const cv = addCanvas(x0, p.top - 12, W, p.kmH + 24);
  new Chart(cv, {
    type: 'scatter',
    data: { datasets: sets },
    options: {
      responsive: false, devicePixelRatio: 1,
      layout: { padding: { left: 0, top: 12, right: 2, bottom: 12 } },
      scales: {
        x: { type: 'linear', min: -1.6, max: 38.5, display: false },
        y: {
          min: -0.125, max: 1.125,
          afterBuildTicks: s => { s.ticks = [0, 0.25, 0.5, 0.75, 1].map(v => ({ value: v })); },
          afterFit: s => { s.width = 52; },
          ticks: { callback: v => v.toFixed(1), font: { size: 14 }, padding: 3 },
          grid: tickOnly(1.5, 8),
          border: { color: '#000', width: 2 },
          title: { display: true, text: 'Survival probability', font: { size: 16 }, padding: { top: 0, bottom: 0 } }
        }
      }
    },
    plugins: [framePlugin('trb', 8), kmText]
  });

  // number-at-risk table
  const tTop = p.top + p.kmH;
  const riskText = {
    id: 'riskText',
    afterDraw(chart) {
      const { ctx } = chart;
      const X = v => chart.scales.x.getPixelForValue(v);
      const Y = v => chart.scales.y.getPixelForValue(v);
      ctx.save();
      ctx.textBaseline = 'middle';
      ctx.textAlign = 'center';
      ctx.font = (p.numSerif ? '17px ' + SERIF : '16px ' + SANS);
      RISK_T.forEach((t, i) => {
        ctx.fillStyle = NUM_BLUE; ctx.fillText(String(p.riskL[i]), X(t), Y(1.5));
        ctx.fillStyle = NUM_RED; ctx.fillText(String(p.riskH[i]), X(t), Y(0.5));
      });
      ctx.textAlign = 'left';
      ctx.fillStyle = '#111';
      ctx.font = (p.headSerif ? '17px ' + SERIF : '16px ' + SANS);
      ctx.fillText('Number at risk', chart.chartArea.left + 1, Y(2.42));
      ctx.restore();
    }
  };
  const gridDash = d => ({ type: 'line', data: d, borderColor: '#8a8a8a', borderWidth: 1, borderDash: [4, 3], pointRadius: 0, fill: false });
  const tSets = [
    gridDash([{ x: -1.6, y: 1 }, { x: 38.5, y: 1 }]),
    gridDash([{ x: -1.6, y: 2 }, { x: 38.5, y: 2 }]),
    ...RISK_T.map(t => gridDash([{ x: t, y: 0 }, { x: t, y: 3 }]))
  ];
  const tv = addCanvas(x0, tTop - 17, W, 17 + p.tH + 43);
  new Chart(tv, {
    type: 'scatter',
    data: { datasets: tSets },
    options: {
      responsive: false, devicePixelRatio: 1,
      layout: { padding: { left: 0, top: 17, right: 2, bottom: 0 } },
      scales: {
        x: {
          type: 'linear', min: -1.6, max: 38.5,
          afterBuildTicks: s => { s.ticks = RISK_T.map(v => ({ value: v })); },
          afterFit: s => { s.height = 43; },
          ticks: { callback: v => String(v), font: { size: 16 }, padding: 3, minRotation: 0, maxRotation: 0, autoSkip: false },
          grid: tickOnly(1.5, 6),
          border: { color: '#000', width: 2 },
          title: { display: true, text: 'Overall survival(Months)', font: { size: 16 }, padding: { top: 0, bottom: 0 } }
        },
        y: {
          min: 0, max: 3,
          afterBuildTicks: s => { s.ticks = [{ value: 0.5 }, { value: 1.5 }]; },
          afterFit: s => { s.width = 52; },
          ticks: { callback: v => (v > 1 ? 'L' : 'H'), color: [NUM_RED, NUM_BLUE], font: { size: 17 }, padding: 8 },
          grid: { display: false, drawTicks: false },
          border: { color: '#000', width: 2 }
        }
      }
    },
    plugins: [framePlugin('tr'), riskText]
  });
}

kmPanel({ ax: 908, top: 13, kmH: 256, tH: 96, title: 'wp-score', pv: 'p=5.2e-3', hr: 'HR=6.22,95CI%(1.44,26.78)', med: [33, 37],
  L: F_L, Lc: F_Lc, Lb: F_Lb, H: F_H, Hc: F_Hc, Hb: F_Hb, riskL: F_riskL, riskH: F_riskH });
kmPanel({ ax: 84, top: 417, kmH: 235, tH: 87, title: 'MANEA', pv: 'p=2.0e-3', hr: 'HR=0.14,95CI%(0.03,0.60)', med: [34, 37],
  L: G_L, Lc: G_Lc, Lb: G_Lb, H: G_H, Hc: G_Hc, Hb: G_Hb, riskL: G_riskL, riskH: G_riskH });
kmPanel({ ax: 496, top: 417, kmH: 235, tH: 87, title: 'SESN1', pv: 'p=0.02', hr: 'HR=0.26,95CI%(0.08,0.89)', med: [33, 37],
  L: H_L, Lc: H_Lc, Lb: H_Lb, H: H_H, Hc: H_Hc, Hb: H_Hb, riskL: H_riskL, riskH: H_riskH, headSerif: true });
kmPanel({ ax: 911, top: 417, kmH: 235, tH: 87, title: 'TEX55', pv: 'p=1.2e-3', hr: 'HR=6.00,95CI%(1.76,20.45)', med: [33, 37],
  L: I_L, Lc: I_Lc, Lb: I_Lb, H: I_H, Hc: I_Hc, Hb: I_Hb, riskL: I_riskL, riskH: I_riskH });
kmPanel({ ax: 85, top: 783, kmH: 235, tH: 87, title: 'CMAS', pv: 'p=0.04', hr: 'HR=2.48,95CI%(1.01,6.12)', med: [31, 34],
  L: J_L, Lc: J_Lc, Lb: J_Lb, H: J_H, Hc: J_Hc, Hb: J_Hb, riskL: J_riskL, riskH: J_riskH });
kmPanel({ ax: 496, top: 783, kmH: 235, tH: 87, title: 'STRBP', pv: 'p=0.02', hr: 'HR=4.74,95CI%(1.10,20.35)', med: [34, 37],
  L: K_L, Lc: K_Lc, Lb: K_Lb, H: K_H, Hc: K_Hc, Hb: K_Hb, riskL: K_riskL, riskH: K_riskH, headSerif: true, numSerif: true });
kmPanel({ ax: 911, top: 783, kmH: 235, tH: 87, title: 'ZNF469', pv: 'p=0.01', hr: 'HR=5.11,95CI%(1.19,21.92)', med: [34, 37],
  L: L_L, Lc: L_Lc, Lb: L_Lb, H: L_H, Hc: L_Hc, Hb: L_Hb, riskL: L_riskL, riskH: L_riskH, headSerif: true, numSerif: true });
</script>
</body>
</html>
